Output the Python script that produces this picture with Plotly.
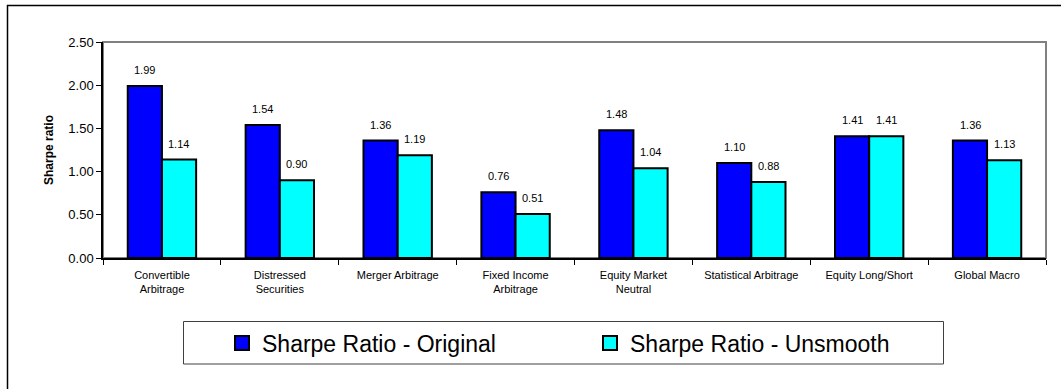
import plotly.graph_objects as go

categories = ["Convertible<br>Arbitrage", "Distressed<br>Securities", "Merger Arbitrage",
              "Fixed Income<br>Arbitrage", "Equity Market<br>Neutral", "Statistical Arbitrage",
              "Equity Long/Short", "Global Macro"]
original = [1.99, 1.54, 1.36, 0.76, 1.48, 1.10, 1.41, 1.36]
unsmooth = [1.14, 0.90, 1.19, 0.51, 1.04, 0.88, 1.41, 1.13]
series_names = ["Sharpe Ratio - Original", "Sharpe Ratio - Unsmooth"]
series_colors = ["#0000FF", "#00FFFF"]
y_ticks = [0.0, 0.5, 1.0, 1.5, 2.0, 2.5]

W, H = 1061, 389
L, R, T, B = 103, 15, 42, 131
pw, ph = W - L - R, H - T - B

def px_x(p):
    return (p - L) / pw

def px_y(p):
    return (H - B - p) / ph

FONT = "Liberation Sans, Arial, sans-serif"

fig = go.Figure()
for vals, name, col in zip((original, unsmooth), series_names, series_colors):
    fig.add_trace(go.Bar(x=categories, y=vals, name=name, showlegend=False,
                         marker=dict(color=col, line=dict(color="black", width=2))))
# legend-only entries with larger square keys
for name, col in zip(series_names, series_colors):
    fig.add_trace(go.Scatter(x=[None], y=[None], mode="markers", name=name,
                             marker=dict(symbol="square", size=14, color=col,
                                         line=dict(color="black", width=2))))

annotations = []
for i, c in enumerate(categories):
    for v, dx in ((original[i], -17), (unsmooth[i], 17)):
        annotations.append(dict(x=c, y=v, xref="x", yref="y", text=f"{v:.2f}",
                                showarrow=False, xshift=dx, yshift=16,
                                font=dict(family=FONT, size=11, color="black")))

shapes = [
    dict(type="rect", xref="paper", yref="paper", x0=0, x1=1, y0=0, y1=1,
         line=dict(color="#808080", width=2), layer="below"),
    dict(type="rect", xref="paper", yref="paper", x0=px_x(7.5), x1=px_x(1064),
         y0=px_y(395), y1=px_y(5.5), line=dict(color="black", width=1.5)),
    dict(type="rect", xref="paper", yref="paper", x0=px_x(183.5), x1=px_x(943.5),
         y0=px_y(364), y1=px_y(321.5), line=dict(color="#404040", width=1)),
]

fig.update_layout(
    width=W, height=H,
    margin=dict(l=L, r=R, t=T, b=B, pad=0),
    paper_bgcolor="white", plot_bgcolor="white",
    barmode="group", bargap=0.42, bargroupgap=0,
    font=dict(family=FONT, color="black"),
    showlegend=True,
    legend=dict(orientation="h", x=px_x(222), y=px_y(343), xanchor="left", yanchor="middle",
                font=dict(family=FONT, size=23, color="black"),
                entrywidth=323, entrywidthmode="pixels",
                bgcolor="rgba(0,0,0,0)", borderwidth=0, itemclick=False),
    annotations=annotations,
    shapes=shapes,
)
fig.update_xaxes(showline=True, linecolor="black", linewidth=1.5, showgrid=False,
                 ticks="outside", tickson="boundaries", ticklen=5, tickcolor="black",
                 tickfont=dict(family=FONT, size=11), ticklabelstandoff=6)
fig.update_yaxes(range=[0, 2.5], tickvals=y_ticks, tickformat=".2f",
                 showline=True, linecolor="black", linewidth=1.5, showgrid=False,
                 zeroline=False, ticks="outside", ticklen=5, tickcolor="black",
                 tickfont=dict(family=FONT, size=13),
                 title=dict(text="<b>Sharpe ratio</b>", font=dict(family=FONT, size=12), standoff=12))

fig.write_html("out.html")
